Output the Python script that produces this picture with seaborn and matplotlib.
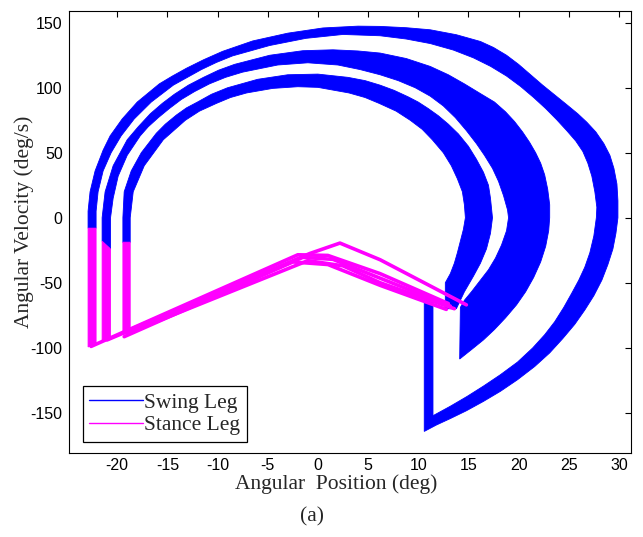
import matplotlib
matplotlib.use("Agg")
import numpy as np
import pandas as pd
import matplotlib.pyplot as plt
from matplotlib.lines import Line2D
import seaborn as sns

# ---- swing leg: the three thick bands, outer and inner edge of each (deg, deg/s)
band_a_outer_x = [-22.9, -22.9, -22.7, -22.2, -21.4, -20.7, -19.5, -18.0, -16.9, -15.8, -14.5, -13.1, -11.4, -9.5,
                  -6.5, -3.0, 0.5, 4.0, 6.2, 8.8, 11.2, 13.8, 16.2, 17.5, 18.8, 20.0, 21.2, 22.4, 23.6, 24.8,
                  25.9, 26.8, 27.7, 28.5, 29.1, 29.5, 29.8, 29.9, 29.9, 29.7, 29.4, 28.9, 28.3, 27.5, 26.6,
                  25.6, 24.4, 23.1, 21.6, 19.9, 18.2, 16.5, 14.8, 13.2, 11.8, 10.6, 10.6]
band_a_outer_y = [-8, 5, 20, 36, 52, 63, 76, 89, 96, 103, 109, 115, 121.5, 128,
                  136, 142, 146, 147.4, 147.2, 146.2, 144.6, 140.8, 135.6, 131, 125, 118, 110, 102, 94.5, 87,
                  80, 73.5, 66, 57, 48, 38, 26, 13, 0, -12, -24, -36, -48, -60, -71,
                  -82, -93, -104, -114.5, -124.6, -133.5, -141.3, -148.5, -154.5, -159.5, -164.4, -62]
band_a_inner_x = [-22.1, -22.1, -21.9, -21.4, -20.6, -19.6, -18.3, -16.6, -15.5, -14.4, -13.0, -11.6, -10.1,
                  -8.5, -4.8, -1.2, 2.5, 6.2, 8.8, 11.2, 13.5, 15.5, 17.2, 18.8, 20.2, 21.5, 22.7, 23.8, 24.8,
                  25.7, 26.4, 26.9, 27.3, 27.6, 27.8, 27.75, 27.5, 27.1, 26.6, 26.0, 25.3, 24.5, 23.6, 22.6,
                  21.4, 19.9, 18.18, 16.5, 14.86, 13.2, 11.47, 11.47]
band_a_inner_y = [-8, 5, 20, 36, 50, 63, 76, 89, 95.5, 102, 108, 114, 119.5,
                  124.5, 132.5, 138, 141, 140, 137.5, 134, 129, 123, 116.5, 109, 101, 92.5, 84, 75.4, 67,
                  59, 51, 42, 32, 20, 8, 0, -14, -27, -38, -48, -58, -69, -80, -90,
                  -100.2, -111, -120.8, -129.5, -137.5, -145, -152.3, -62]

band_b_outer_x = [-21.5, -21.5, -21.2, -20.4, -19.0, -17.9, -16.7, -15.5, -14.3, -12.9, -11.4, -9.9, -8.3,
                  -4.8, -1.5, 1.5, 4.0, 6.2, 8.8, 11.2, 13.0, 14.6, 16.2, 17.6, 18.7, 19.6, 20.4, 21.1, 21.7,
                  22.2, 22.6, 22.9, 23.1, 23.1, 23.0, 22.7, 22.2, 21.5, 20.7, 19.8, 18.7, 17.6, 16.5, 15.3,
                  14.13]
band_b_outer_y = [-18, 0, 20, 40, 60, 70, 80, 88, 95, 102, 108, 113.5, 118,
                  125, 128.5, 129.2, 128.3, 126.7, 122.5, 116.4, 110, 103, 95.5, 89, 81.5, 74, 66, 58, 50,
                  42, 33, 22, 10, 0, -10, -22, -34, -46, -57, -67, -77, -86, -94, -101.5,
                  -108.7]
band_b_inner_x = [-20.66, -20.66, -20.4, -19.9, -19.0, -17.7, -16.9, -15.9, -14.8, -13.6, -12.3, -10.8, -9.2,
                  -7.5, -4.0, -1.0, 2.0, 4.2, 6.2, 8.0, 9.7, 11.2, 12.5, 13.7, 14.8, 15.8, 16.6, 17.4, 18.0,
                  18.5, 18.9, 19.0, 18.8, 18.3, 17.7, 17.0, 16.2, 15.3, 14.6, 14.2]
band_b_inner_y = [-24, 0, 15, 32, 48, 63, 70, 77, 84, 91, 97, 103, 108,
                  112, 117.5, 119.2, 117.5, 114, 110, 105.5, 100, 93.5, 86, 77, 67, 57, 48, 38, 28,
                  17, 6, 0, -10, -21, -31, -40, -48, -57, -63.5, -69]

band_c_outer_x = [-19.43, -19.43, -19.3, -18.6, -17.6, -16.1, -15.2, -14.1, -13.1, -12.0, -10.6, -9.0, -6.0,
                  -3.0, 0.0, 3.0, 4.7, 6.2, 7.6, 9.0, 10.0, 11.0, 12.0, 13.0, 14.0, 15.0, 15.8, 16.5, 17.0,
                  17.2, 17.4, 17.2, 16.8, 16.2, 15.5, 14.6, 13.8]
band_c_outer_y = [-19, 0, 20, 36, 50, 65, 72, 79, 84.5, 89, 95, 100, 106.5,
                  110, 110.5, 108, 105.5, 102, 98, 93, 89, 84, 78.5, 72, 64.5, 55, 45, 35, 25,
                  15, 0, -12, -24, -35, -45, -57, -70]
band_c_inner_x = [-18.7, -18.7, -18.4, -17.3, -15.4, -13.2, -11.8, -10.1, -8.7, -7.1, -4.5, -2.0, 0.0,
                  3.1, 4.7, 6.1, 7.8, 9.2, 10.4, 11.4, 12.5, 13.3, 13.9, 14.4, 14.6, 14.7, 14.5, 14.2, 13.9,
                  13.6, 13.2, 12.7, 12.7]
band_c_inner_y = [-19, 0, 20, 40, 60, 75, 82, 88, 92.5, 96, 99.5, 100.8, 100.3,
                  96, 92.5, 88, 82, 75, 68, 60, 50, 40, 30, 20, 10, 0, -9, -18, -27,
                  -35, -43, -50, -70]

# ---- stance leg: vertical drops and the ramps
bar_1_x = [-22.9, -22.1, -22.1, -22.9]
bar_1_y = [-8, -8, -97.5, -99.4]
bar_2_x = [-21.5, -20.66, -20.66, -21.5]
bar_2_y = [-18, -24, -92, -94]
bar_3_x = [-19.43, -18.7, -18.7, -19.43]
bar_3_y = [-18.8, -18.8, -88, -90]

ramp_a_x = [-22.6, -2.0, 1.0, 6.2, 13.0]
ramp_a_y = [-99, -28.5, -29, -43, -66]
ramp_b_x = [-21.0, -1.5, 1.5, 6.2, 13.2]
ramp_b_y = [-94, -30.5, -32, -46.5, -68]
ramp_c_x = [-19.0, -1.0, 2.5, 6.2, 13.6]
ramp_c_y = [-89, -33, -37, -50, -70]
ramp_d_x = [-19.0, -0.8, 2.2, 6.2, 14.8]
ramp_d_y = [-87, -27.5, -19.5, -32.3, -67]
ramp_e_x = [-19.3, -2.5, 1.0, 6.2, 12.8]
ramp_e_y = [-91.5, -34, -36, -52, -70.5]

x_ticks = [-20, -15, -10, -5, 0, 5, 10, 15, 20, 25, 30]
y_ticks = [-150, -100, -50, 0, 50, 100, 150]

sns.set_style("white")
plt.rcParams['font.family'] = ['Liberation Sans', 'DejaVu Sans']
plt.rcParams['axes.unicode_minus'] = False

fig = plt.figure(figsize=(6.43, 5.37), dpi=100)
ax = fig.add_axes([0.1073, 0.1564, 0.874, 0.823])

blue = (0, 0, 1)
pink = (1, 0, 1)

#swing bands as filled outlines
for ox, oy, ix, iy in [(band_a_outer_x, band_a_outer_y, band_a_inner_x, band_a_inner_y),
                       (band_b_outer_x, band_b_outer_y, band_b_inner_x, band_b_inner_y),
                       (band_c_outer_x, band_c_outer_y, band_c_inner_x, band_c_inner_y)]:
    ax.fill(ox + ix[::-1], oy + iy[::-1], facecolor=blue, edgecolor=blue, lw=0.6, zorder=2)

#stance drops
for bx, by in [(bar_1_x, bar_1_y), (bar_2_x, bar_2_y), (bar_3_x, bar_3_y)]:
    ax.fill(bx, by, facecolor=pink, edgecolor=pink, lw=0.6, zorder=3)

#stance ramps
ramps = []
for i, (rx, ry) in enumerate([(ramp_a_x, ramp_a_y), (ramp_b_x, ramp_b_y), (ramp_c_x, ramp_c_y),
                              (ramp_d_x, ramp_d_y), (ramp_e_x, ramp_e_y)]):
    ramps.append(pd.DataFrame({"x": rx, "y": ry, "trace": i}))
ramps = pd.concat(ramps, ignore_index=True)
sns.lineplot(data=ramps, x="x", y="y", units="trace", estimator=None, sort=False,
             color=pink, lw=2.6, ax=ax, zorder=3, legend=False)

ax.set_xlim(-24.8, 31.2)
ax.set_ylim(-181, 159)
ax.set_xticks(x_ticks)
ax.set_yticks(y_ticks)
ax.tick_params(direction="in", top=True, right=True, length=4, width=0.8,
               labelsize=11.5, colors="black")
ax.tick_params(axis="x", pad=3.5)
ax.tick_params(axis="y", pad=4.5)
for s in ax.spines.values():
    s.set_color("black")
    s.set_linewidth(0.8)

serif = ['Liberation Serif', 'DejaVu Serif']
ax.set_xlabel("Angular  Position (deg)", family=serif, fontsize=15.5)
ax.set_ylabel("Angular Velocity (deg/s)", family=serif, fontsize=15.5)
ax.xaxis.set_label_coords(0.475, -0.047)
ax.yaxis.set_label_coords(-0.062, 0.523)

handles = [Line2D([], [], color=blue, lw=1.0), Line2D([], [], color=pink, lw=1.0)]
leg = ax.legend(handles, ["Swing Leg", "Stance Leg"], loc="lower left",
                bbox_to_anchor=(0.0244, 0.0256), borderaxespad=0, fancybox=False,
                framealpha=1, edgecolor="black", handlelength=2.5, handletextpad=0.05,
                borderpad=0.3, labelspacing=0.1, prop={"family": serif, "size": 15.5})
leg.get_frame().set_linewidth(0.9)

fig.text(312 / 643, 1 - 517 / 537, "(a)", ha="center", va="center", family=serif, fontsize=15.5)

fig.savefig("out.png", dpi=100)
